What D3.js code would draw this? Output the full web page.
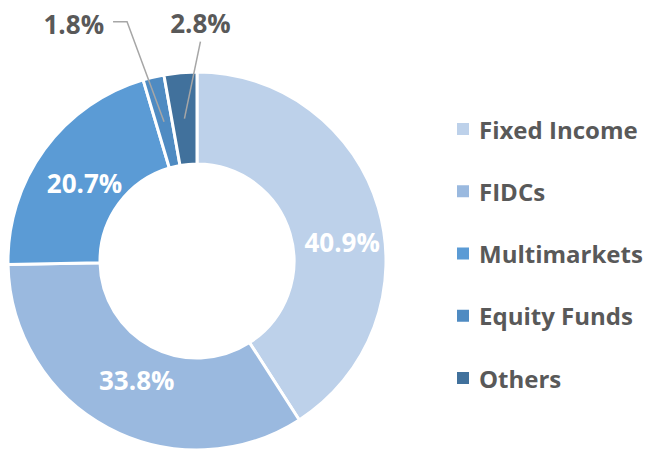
<!DOCTYPE html>
<html>
<head>
<meta charset="utf-8">
<script src="https://cdn.jsdelivr.net/npm/d3@7"></script>
<style>
  body { margin: 0; background: #fff; }
  text { font-family: "Open Sans", "Noto Sans", sans-serif; font-weight: 700; }
</style>
</head>
<body>
<svg id="chart" width="648" height="450"></svg>
<script>
const categories = ['Fixed Income', 'FIDCs', 'Multimarkets', 'Equity Funds', 'Others'];
const values = [40.9, 33.8, 20.7, 1.8, 2.8];
const colors = ['#BDD1EA', '#9AB9DF', '#5B9BD5', '#4F8BC2', '#41719C'];

const width = 648;
const height = 450;
const cx = 197, cy = 261;
const outerR = 189, innerR = 97;

const svg = d3.select('#chart');

const pie = d3.pie().sort(null).value(d => d.value);
const arcs = pie(categories.map((c, i) => ({ name: c, value: values[i] })));

const arc = d3.arc().innerRadius(innerR).outerRadius(outerR);
const labelArc = d3.arc().innerRadius(143).outerRadius(143);

const g = svg.append('g').attr('transform', `translate(${cx},${cy})`);

// slices
g.selectAll('path.slice')
  .data(arcs)
  .enter()
  .append('path')
  .attr('class', 'slice')
  .attr('d', arc)
  .attr('fill', (d, i) => colors[i])
  .attr('stroke', '#fff')
  .attr('stroke-width', 3)
  .attr('stroke-linejoin', 'miter');

const fmt = v => v.toFixed(1) + '%';

// nudges so the inside labels sit where excel put them
const nudge = {
  'Fixed Income': [8, 21],
  'FIDCs': [7, -7],
  'Multimarkets': [3, 6]
};

// big slices get labels inside
const inner = arcs.filter(d => d.value > 10);
g.selectAll('text.inner')
  .data(inner)
  .enter()
  .append('text')
  .attr('class', 'inner')
  .attr('x', d => labelArc.centroid(d)[0] + nudge[d.data.name][0])
  .attr('y', d => labelArc.centroid(d)[1] + nudge[d.data.name][1])
  .attr('text-anchor', 'middle')
  .attr('dominant-baseline', 'central')
  .attr('font-size', 26)
  .attr('fill', '#fff')
  .text(d => fmt(d.value));

// small slices get callouts (layout offsets from the slice centroid)
const callouts = {
  'Equity Funds': { end: [-37, -100], elbow: -14, anchor: 'end' },
  'Others': { end: [16, -77], elbow: 0, anchor: 'middle' }
};
const outer = arcs.filter(d => d.value <= 10);
outer.forEach(d => {
  const c = labelArc.centroid(d);
  const co = callouts[d.data.name];
  const ex = c[0] + co.end[0], ey = c[1] + co.end[1];
  const pts = [[c[0], c[1]], [ex, ey]];
  if (co.elbow) pts.push([ex + co.elbow, ey]);
  g.append('path')
    .attr('d', d3.line()(pts))
    .attr('fill', 'none')
    .attr('stroke', '#A6A6A6')
    .attr('stroke-width', 1.5);
  const t = g.append('text')
    .attr('font-size', 26)
    .attr('fill', '#595959')
    .attr('dominant-baseline', 'central')
    .attr('text-anchor', co.anchor)
    .text(fmt(d.value));
  if (co.anchor === 'end') t.attr('x', ex + co.elbow - 9).attr('y', ey + 2);
  else t.attr('x', ex).attr('y', ey - 19);
});

// legend
const legendY = d3.scalePoint().domain(categories).range([129, 378]);
const legend = svg.append('g').attr('transform', 'translate(457,0)');
const item = legend.selectAll('g.item')
  .data(categories)
  .enter()
  .append('g')
  .attr('class', 'item')
  .attr('transform', d => `translate(0,${legendY(d)})`);
item.append('rect')
  .attr('x', 0).attr('y', -6)
  .attr('width', 12).attr('height', 12)
  .attr('fill', (d, i) => colors[i]);
item.append('text')
  .attr('x', 22)
  .attr('dominant-baseline', 'central')
  .attr('font-size', 24)
  .attr('fill', '#595959')
  .text(d => d);
</script>
</body>
</html>
